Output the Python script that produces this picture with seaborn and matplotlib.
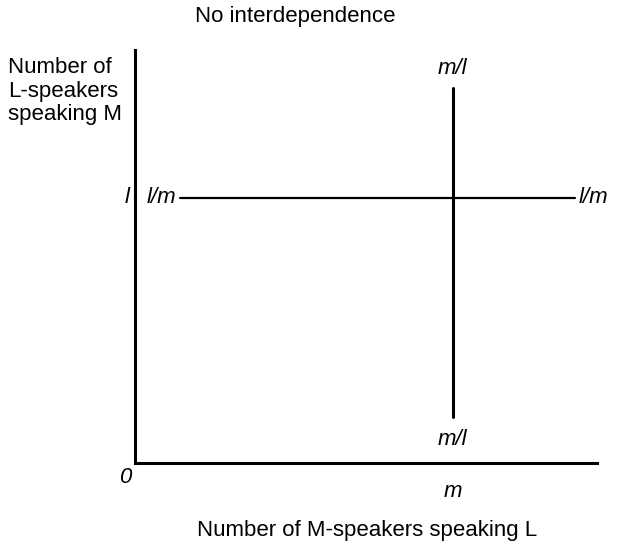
import pandas as pd
import matplotlib.pyplot as plt
import seaborn as sns

sns.set_style("white")
plt.rcParams['font.family'] = ['Liberation Sans', 'DejaVu Sans']
plt.rcParams['font.size'] = 16
plt.rcParams['text.color'] = 'black'

# axis positions of the two critical values
m_val = 0.688
l_val = 0.642

# horizontal line (L-speakers fixed at l)
h_x = [0.097, 0.952]
h_y = [l_val, l_val]

# vertical line (M-speakers fixed at m)
v_x = [m_val, m_val]
v_y = [0.111, 0.908]

fig = plt.figure(figsize=(6.2, 5.45), dpi=100)
ax = fig.add_axes([0.2177, 0.1505, 0.745, 0.758])

df_h = pd.DataFrame({"x": h_x, "y": h_y})
df_v = pd.DataFrame({"x": v_x, "y": v_y})
sns.lineplot(data=df_h, x="x", y="y", sort=False, estimator=None,
             color="black", linewidth=1.6, ax=ax)
sns.lineplot(data=df_v, x="x", y="y", sort=False, estimator=None,
             color="black", linewidth=2.2, ax=ax)

ax.set_xlim(0, 1)
ax.set_ylim(0, 1)
ax.set_xticks([])
ax.set_yticks([])
ax.set_xlabel("")
ax.set_ylabel("")
for side in ["top", "right"]:
    ax.spines[side].set_visible(False)
for side in ["left", "bottom"]:
    ax.spines[side].set_linewidth(2.2)
    ax.spines[side].set_color("black")

# end labels of the lines
kw = dict(style="italic", fontsize=16, clip_on=False, color="black")
ax.text(-0.012, l_val, "l", ha="right", va="center", **kw)
ax.text(h_x[0] - 0.008, l_val, "l/m", ha="right", va="center", **kw)
ax.text(h_x[1] + 0.008, l_val, "l/m", ha="left", va="center", **kw)
ax.text(m_val, 0.955, "m/l", ha="center", va="center", **kw)
ax.text(m_val, 0.056, "m/l", ha="center", va="center", **kw)
ax.text(-0.022, -0.036, "0", ha="center", va="center", **kw)
ax.text(m_val, -0.07, "m", ha="center", va="center", **kw)

fig.text(0.476, 0.969, "No interdependence", ha="center", va="center", fontsize=16)
fig.text(0.013, 0.895, "Number of\nL-speakers\nspeaking M", ha="left", va="top",
         fontsize=16, linespacing=1.15)
fig.text(0.592, 0.026, "Number of M-speakers speaking L", ha="center", va="center",
         fontsize=16)

fig.savefig("out.png", dpi=100)
